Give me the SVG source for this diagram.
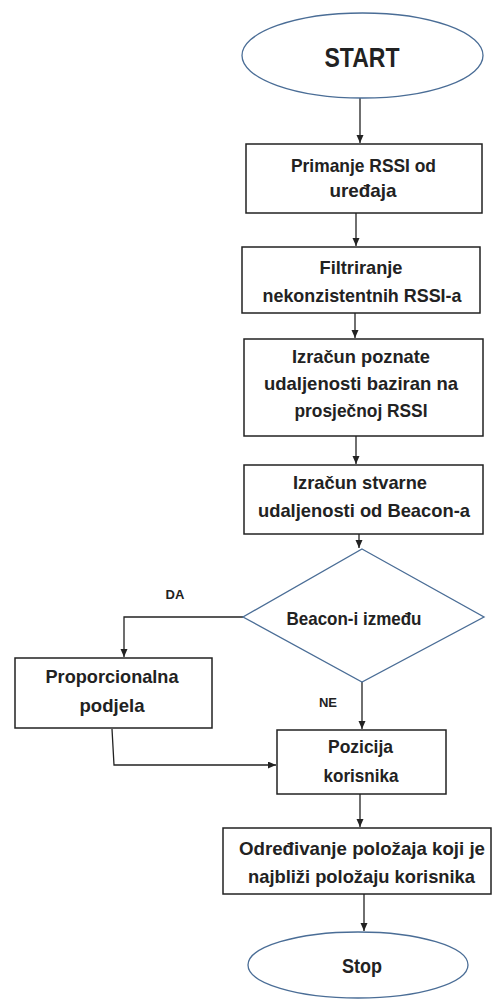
<svg xmlns="http://www.w3.org/2000/svg" width="492" height="1000" viewBox="0 0 492 1000">
<style>
.box{fill:#fff;stroke:#222;stroke-width:1.5}
.term{fill:#fff;stroke:#4a6d96;stroke-width:1.3}
.t{font-family:"Liberation Sans",Arial,sans-serif;font-weight:bold;font-size:19px;fill:#222;text-anchor:middle}
.s{font-size:13px}
.big{font-size:28px}
.m{font-size:20px}
.c{fill:none;stroke:#222;stroke-width:1.3}
</style>
<defs>
<marker id="ah" markerUnits="userSpaceOnUse" markerWidth="9" markerHeight="8" refX="8" refY="3.5" orient="auto">
<path d="M0,0 L8,3.5 L0,7 z" fill="#222"/>
</marker>
</defs>
<rect width="492" height="1000" fill="#fff"/>
<g id="connectors">
<path class="c" d="M360 98 V143" marker-end="url(#ah)"/>
<path class="c" d="M356 213 V246" marker-end="url(#ah)"/>
<path class="c" d="M355 313 V338" marker-end="url(#ah)"/>
<path class="c" d="M356 436 V464" marker-end="url(#ah)"/>
<path class="c" d="M359 534 V548" marker-end="url(#ah)"/>
<path class="c" d="M243 617 H124 V657" marker-end="url(#ah)"/>
<path class="c" d="M362 682 V729" marker-end="url(#ah)"/>
<path class="c" d="M112 729 L114 765 H276" marker-end="url(#ah)"/>
<path class="c" d="M360 794 V827" marker-end="url(#ah)"/>
<path class="c" d="M364 894 V931" marker-end="url(#ah)"/>
</g>
<g id="start">
<ellipse class="term" cx="362.5" cy="55.5" rx="120.5" ry="42.5"/>
<text class="t big" x="362" y="67" textLength="75" lengthAdjust="spacingAndGlyphs">START</text>
</g>
<g id="primanje">
<rect class="box" x="246" y="144" width="236" height="69"/>
<text class="t" x="363.5" y="172" textLength="145" lengthAdjust="spacingAndGlyphs">Primanje RSSI od</text>
<text class="t" x="363" y="197" textLength="67" lengthAdjust="spacingAndGlyphs">uređaja</text>
</g>
<g id="filtriranje">
<rect class="box" x="242" y="247" width="238" height="66"/>
<text class="t" x="361" y="274" textLength="83" lengthAdjust="spacingAndGlyphs">Filtriranje</text>
<text class="t" x="362" y="302" textLength="199" lengthAdjust="spacingAndGlyphs">nekonzistentnih RSSI-a</text>
</g>
<g id="poznate">
<rect class="box" x="244" y="339" width="239" height="97"/>
<text class="t" x="361" y="363" textLength="138" lengthAdjust="spacingAndGlyphs">Izračun poznate</text>
<text class="t" x="361" y="390" textLength="194" lengthAdjust="spacingAndGlyphs">udaljenosti baziran na</text>
<text class="t" x="361" y="417" textLength="133" lengthAdjust="spacingAndGlyphs">prosječnoj RSSI</text>
</g>
<g id="stvarne">
<rect class="box" x="244" y="465" width="239" height="69"/>
<text class="t" x="360" y="489" textLength="134" lengthAdjust="spacingAndGlyphs">Izračun stvarne</text>
<text class="t" x="364" y="517" textLength="212" lengthAdjust="spacingAndGlyphs">udaljenosti od Beacon-a</text>
</g>
<g id="odluka">
<polygon class="term" points="362,549 484,617 362,682 243,617"/>
<text class="t" x="354" y="625" textLength="135" lengthAdjust="spacingAndGlyphs">Beacon-i između</text>
</g>
<g id="labels">
<text class="t s" x="175" y="599">DA</text>
<text class="t s" x="328" y="707">NE</text>
</g>
<g id="proporcionalna">
<rect class="box" x="15" y="658" width="197" height="70"/>
<text class="t" x="112" y="683" textLength="133" lengthAdjust="spacingAndGlyphs">Proporcionalna</text>
<text class="t" x="112" y="712" textLength="65" lengthAdjust="spacingAndGlyphs">podjela</text>
</g>
<g id="pozicija">
<rect class="box" x="277" y="730" width="169" height="64"/>
<text class="t" x="360.5" y="753" textLength="65" lengthAdjust="spacingAndGlyphs">Pozicija</text>
<text class="t" x="361" y="782" textLength="75" lengthAdjust="spacingAndGlyphs">korisnika</text>
</g>
<g id="odredivanje">
<rect class="box" x="223" y="828" width="268" height="66"/>
<text class="t" x="362" y="855" textLength="246" lengthAdjust="spacingAndGlyphs">Određivanje položaja koji je</text>
<text class="t" x="361.5" y="883" textLength="227" lengthAdjust="spacingAndGlyphs">najbliži položaju korisnika</text>
</g>
<g id="stop">
<ellipse class="term" cx="358" cy="965" rx="110" ry="33"/>
<text class="t m" x="362" y="973" textLength="40" lengthAdjust="spacingAndGlyphs">Stop</text>
</g>
</svg>
